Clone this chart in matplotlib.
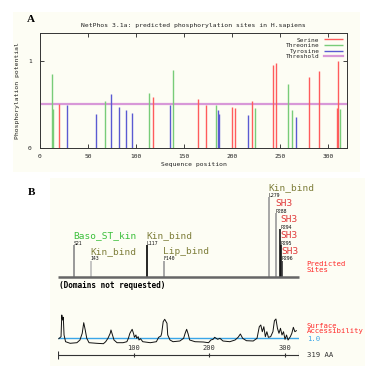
import matplotlib
matplotlib.use("Agg")
import matplotlib.pyplot as plt
from matplotlib.patches import Rectangle

# ---- panel A: NetPhos predictions ----
serine_pos = [20, 118, 165, 173, 200, 203, 221, 243, 246, 280, 291, 310, 311]
serine_val = [0.51, 0.58, 0.56, 0.49, 0.47, 0.46, 0.54, 0.95, 0.98, 0.82, 0.88, 0.46, 1.0]
threonine_pos = [13, 14, 68, 114, 139, 183, 224, 259, 263, 313]
threonine_val = [0.85, 0.45, 0.54, 0.63, 0.90, 0.49, 0.46, 0.74, 0.44, 0.45]
tyrosine_pos = [28, 58, 74, 82, 90, 96, 135, 186, 187, 217, 267]
tyrosine_val = [0.49, 0.39, 0.62, 0.47, 0.44, 0.40, 0.49, 0.44, 0.39, 0.38, 0.36]
threshold = 0.5
seq_len = 319

# ---- panel B: domain / site map ----
site_labels = ["S21", "I43", "L117", "F140", "L279", "P288", "P294", "P295", "P296"]
site_pos = [21, 43, 117, 140, 279, 288, 294, 295, 296]
site_domain = ["Baso_ST_kin", "Kin_bind", "Kin_bind", "Lip_bind", "Kin_bind",
               "SH3", "SH3", "SH3", "SH3"]
site_level = [1, 0, 1, 0, 4, 3, 2, 1, 0]
site_line_col = ["#888888", "#bbbbbb", "#000000", "#999999", "#999999",
                 "#999999", "#111111", "#111111", "#333333"]
domain_col = {"Baso_ST_kin": "#3cc03c", "Kin_bind": "#7f7f3c",
              "Lip_bind": "#7f7f3c", "SH3": "#e03a3a"}

# surface accessibility profile (position, value)
acc_pos = [1, 4, 5, 6, 7, 8, 10, 16, 25, 29, 32, 34, 36, 38, 41, 51, 60, 63, 66, 69,
           70, 72, 74, 78, 86, 91, 93, 95, 98, 100, 101, 103, 104, 106, 107, 109, 112,
           122, 130, 133, 136, 137, 139, 141, 144, 145, 148, 152, 161, 166, 168, 170,
           172, 174, 181, 192, 199, 202, 205, 207, 211, 214, 218, 227, 234, 238, 241,
           244, 249, 258, 263, 266, 268, 270, 272, 274, 276, 278, 281, 284, 286, 288,
           290, 292, 294, 296, 298, 300, 302, 304, 307, 309, 311, 313, 315]
acc_val = [0.96, 1.16, 3.33, 2.83, 3.1, 1.33, 0.66, 0.5, 0.56, 0.83, 1.5, 2.56, 1.83,
           1.0, 0.56, 0.5, 0.46, 0.66, 1.0, 1.5, 1.83, 1.33, 0.83, 0.56, 0.56, 0.66,
           1.0, 1.5, 1.9, 1.43, 1.1, 1.33, 1.0, 1.16, 0.83, 0.96, 0.66, 0.56, 0.66,
           1.1, 1.23, 1.5, 2.66, 2.9, 2.5, 1.33, 0.83, 0.66, 0.73, 1.0, 1.5, 1.9, 1.43,
           0.83, 0.66, 0.63, 0.56, 0.83, 0.9, 1.1, 0.9, 1.0, 0.73, 0.66, 0.83, 1.1,
           1.43, 1.0, 0.76, 0.73, 1.0, 2.16, 2.33, 1.66, 2.16, 1.16, 1.66, 1.1, 1.16,
           1.66, 2.76, 2.93, 2.0, 1.5, 2.0, 1.33, 1.66, 0.9, 1.33, 0.83, 1.16, 1.5,
           2.1, 1.66, 1.76]
ruler_ticks = [100, 200, 300]

W, H = 385, 369
MONO = "DejaVu Sans Mono"
cream = "#fdfdf4"

fig = plt.figure(figsize=(W / 100, H / 100), dpi=100)
fig.patch.set_facecolor("white")


def fbox(x0, y0, x1, y1):
    # pixel box (top-left origin) -> figure fraction rect
    return [x0 / W, 1 - y1 / H, (x1 - x0) / W, (y1 - y0) / H]


for x0, y0, x1, y1 in [(13, 12, 360, 172), (50, 178, 365, 366)]:
    r = fbox(x0, y0, x1, y1)
    fig.add_artist(Rectangle((r[0], r[1]), r[2], r[3], transform=fig.transFigure,
                             facecolor=cream, edgecolor="none", zorder=-10))

fig.text(31 / W, 1 - 19.5 / H, "A", family="Liberation Serif", weight="bold",
         fontsize=8, ha="center", va="center")
fig.text(31 / W, 1 - 192.7 / H, "B", family="Liberation Serif", weight="bold",
         fontsize=8, ha="center", va="center")

# ---------------- panel A ----------------
axA = fig.add_axes(fbox(40, 33, 347, 148))
axA.set_facecolor("none")
axA.vlines(serine_pos, 0, serine_val, color="#ff5c5c", lw=1.0, label="Serine")
axA.vlines(threonine_pos, 0, threonine_val, color="#78cc78", lw=1.0, label="Threonine")
axA.vlines(tyrosine_pos, 0, tyrosine_val, color="#5a5ad2", lw=1.0, label="Tyrosine")
axA.axhline(threshold, color="#d898d8", lw=1.6, label="Threshold", zorder=1)
axA.set_xlim(0, 320)
axA.set_ylim(0, 1.32)
axA.set_xticks([0, 50, 100, 150, 200, 250, 300])
axA.set_yticks([0, 1])
axA.tick_params(direction="in", length=3, width=0.6, top=True, right=True,
                labelsize=4.5, pad=4.5, colors="#222222")
axA.tick_params(axis="y", pad=6)
for lab in axA.get_xticklabels() + axA.get_yticklabels():
    lab.set_family(MONO)
for s in axA.spines.values():
    s.set_linewidth(0.7)
    s.set_color("#333333")
axA.set_title("NetPhos 3.1a: predicted phosphorylation sites in H.sapiens",
              family=MONO, fontsize=4.6, pad=4, color="#222222")
axA.set_xlabel("Sequence position", family=MONO, fontsize=4.6, color="#222222")
axA.xaxis.set_label_coords(0.5, -0.125)
axA.set_ylabel("Phosphorylation potential", family=MONO, fontsize=4.6, color="#222222")
axA.yaxis.set_label_coords(-0.065, 0.5)
leg = axA.legend(loc="upper right", frameon=False, markerfirst=False,
                 prop={"family": MONO, "size": 4.4}, labelspacing=0.05,
                 handlelength=3.0, handletextpad=0.8, borderaxespad=0.3)
for t in leg.get_texts():
    t.set_color("#222222")

# ---------------- panel B: sites ----------------
x0p, x1p = 58, 299.4
base_px = 277.3
axS = fig.add_axes(fbox(x0p, 180, x1p, base_px))
axS.set_xlim(0, seq_len)
axS.set_ylim(0, base_px - 180)
axS.axis("off")
step = 16
for lab, p, dom, lev, lc in zip(site_labels, site_pos, site_domain, site_level,
                                site_line_col):
    top = 16.3 + lev * step
    axS.vlines(p, 0, top, color=lc, lw=1.2)
    axS.text(p - 0.5, top + 2, lab, family=MONO, fontsize=3.5, ha="left",
             va="center", color="#111111")
    axS.text(p - 0.8, top + 9.5, dom, family=MONO, fontsize=6.8, ha="left",
             va="center", color=domain_col[dom])
axS.hlines(0, 0, seq_len, color="#666666", lw=1.8, clip_on=False)
axS.text(328.7, 13, "Predicted", family=MONO, fontsize=5.2, color="#ff2a2a",
         ha="left", va="center", clip_on=False)
axS.text(328.7, 7.3, "Sites", family=MONO, fontsize=5.2, color="#ff2a2a",
         ha="left", va="center", clip_on=False)
axS.text(1.0, -7.7, "(Domains not requested)", family=MONO, fontsize=5.6,
         weight="bold", ha="left", va="center", clip_on=False)

# ---------------- panel B: surface accessibility ----------------
axP = fig.add_axes(fbox(x0p, 310, x1p, 350))
axP.set_xlim(0, seq_len)
axP.set_ylim(-0.17, 3.83)
axP.axis("off")
axP.hlines(1.0, 0, seq_len, color="#3aa6e8", lw=1.0)
axP.plot(acc_pos, acc_val, color="#111111", lw=0.7)
axP.text(328.7, 2.23, "Surface", family=MONO, fontsize=5.2, color="#ff2a2a",
         ha="left", va="center", clip_on=False)
axP.text(328.7, 1.7, "Accessibility", family=MONO, fontsize=5.2, color="#ff2a2a",
         ha="left", va="center", clip_on=False)
axP.text(328.7, 0.96, "1.0", family=MONO, fontsize=5.2, color="#3aa6e8",
         ha="left", va="center", clip_on=False)

# ruler
axR = fig.add_axes(fbox(x0p, 349, x1p, 361))
axR.set_xlim(0, seq_len)
axR.set_ylim(-6, 6)
axR.axis("off")
axR.hlines(0, 0, seq_len, color="#333333", lw=0.8)
axR.vlines([0, seq_len], -4, 4, color="#333333", lw=0.8)
axR.vlines(ruler_ticks, -2.3, 2.3, color="#333333", lw=0.8)
for t in ruler_ticks:
    axR.text(t, 7.3, str(t), family=MONO, fontsize=5.0, ha="center", va="center",
             color="#333333", clip_on=False)
axR.text(328.7, 0, "%d AA" % seq_len, family=MONO, fontsize=5.2, ha="left",
         va="center", color="#333333", clip_on=False)

fig.savefig("out.png", dpi=100)
